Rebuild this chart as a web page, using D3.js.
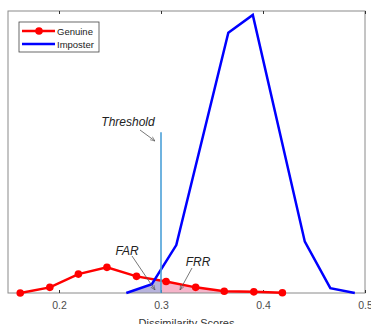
<!DOCTYPE html>
<html>
<head>
<meta charset="utf-8">
<script src="https://cdn.jsdelivr.net/npm/d3@7"></script>
<style>
  body { margin: 0; background: #fff; }
  svg { display: block; font-family: "Liberation Sans", Arial, sans-serif; }
</style>
</head>
<body>
<svg id="chart" width="371" height="324"></svg>
<script>
// genuine / imposter score distributions
var genuineX = [0.162, 0.191, 0.219, 0.247, 0.276, 0.305, 0.334, 0.362, 0.391, 0.419];
var genuineY = [0.000, 0.020, 0.067, 0.091, 0.059, 0.041, 0.020, 0.006, 0.004, 0.001];
var imposterX = [0.266, 0.291, 0.315, 0.366, 0.390, 0.441, 0.466, 0.490];
var imposterY = [0.000, 0.031, 0.170, 0.923, 0.986, 0.182, 0.017, 0.000];
var xTicks = [0.2, 0.3, 0.4, 0.5];
var threshold = 0.3, thresholdTop = 0.57;

var m = {l: 8, r: 6, t: 11, b: 31}, W = 371, H = 324;
var svg = d3.select("#chart");
var x = d3.scaleLinear().domain([0.15, 0.5]).range([m.l, W - m.r]);
var y = d3.scaleLinear().domain([0, 1]).range([H - m.b, m.t]);

var genuine = genuineX.map(function(v, i) { return [v, genuineY[i]]; });
var imposter = imposterX.map(function(v, i) { return [v, imposterY[i]]; });

// linear lookup along a series, 0 outside
function at(s, v) {
  if (v < s[0][0] || v > s[s.length - 1][0]) return 0;
  for (var i = 1; i < s.length; i++) {
    if (v <= s[i][0]) {
      var a = s[i - 1], b = s[i];
      return a[1] + (b[1] - a[1]) * (v - a[0]) / (b[0] - a[0]);
    }
  }
  return 0;
}
// overlap area = under the lower of the two curves
function overlap(x0, x1) {
  var xs = d3.range(x0, x1, 0.0005).concat([x1]);
  return xs.map(function(v) { return [v, Math.min(at(genuine, v), at(imposter, v))]; });
}
var area = d3.area().x(function(d) { return x(d[0]); }).y0(y(0)).y1(function(d) { return y(d[1]); });

svg.append("path").datum(overlap(imposterX[0], threshold)).attr("d", area).attr("fill", "#b7b3dc");
svg.append("path").datum(overlap(threshold, genuineX[genuineX.length - 1])).attr("d", area).attr("fill", "#f6b4c9");

// axes box
var gray = "#8a8a8a";
svg.append("rect").attr("x", x(0.15)).attr("y", m.t).attr("width", x(0.5) - x(0.15)).attr("height", y(0) - m.t)
  .attr("fill", "none").attr("stroke", gray).attr("stroke-width", 1);

var xAxis = svg.append("g").attr("transform", "translate(0," + y(0) + ")")
  .call(d3.axisBottom(x).tickValues(xTicks).tickSize(-3).tickPadding(9).tickFormat(d3.format(".1f")));
xAxis.select(".domain").remove();
xAxis.selectAll("line").attr("stroke", "#333");
xAxis.selectAll("text").attr("fill", "#4d4d4d").style("font-size", "10.5px");

var topAxis = svg.append("g").attr("transform", "translate(0," + m.t + ")")
  .call(d3.axisTop(x).tickValues(xTicks).tickSize(-3).tickFormat(""));
topAxis.select(".domain").remove();
topAxis.selectAll("line").attr("stroke", "#333");

svg.append("text").attr("x", (x(0.15) + x(0.5)) / 2).attr("y", 327).attr("text-anchor", "middle")
  .attr("fill", "#333").style("font-size", "11px").text("Dissimilarity Scores");

// curves
var line = d3.line().x(function(d) { return x(d[0]); }).y(function(d) { return y(d[1]); });
svg.append("path").datum(genuine).attr("d", line).attr("fill", "none").attr("stroke", "#ff0000").attr("stroke-width", 2.5);
svg.selectAll(".gdot").data(genuine).enter().append("circle").attr("class", "gdot")
  .attr("cx", function(d) { return x(d[0]); }).attr("cy", function(d) { return y(d[1]); })
  .attr("r", 3.8).attr("fill", "#ff0000");
svg.append("path").datum(imposter).attr("d", line).attr("fill", "none").attr("stroke", "#0000ff").attr("stroke-width", 2.5);

// threshold
svg.append("line").attr("x1", x(threshold)).attr("x2", x(threshold)).attr("y1", y(thresholdTop)).attr("y2", y(0))
  .attr("stroke", "#4ba0d8").attr("stroke-width", 1.6);

// annotations with arrows
svg.append("defs").append("marker").attr("id", "ah").attr("viewBox", "0 0 10 10").attr("refX", 10).attr("refY", 5)
  .attr("markerWidth", 6).attr("markerHeight", 6).attr("orient", "auto")
  .append("path").attr("d", "M0,1 L10,5 L0,9").attr("fill", "none").attr("stroke", "#555").attr("stroke-width", 1.2);

var notes = [
  {t: "Threshold", tx: 128, ty: 126, a: [140, 130, 155, 141]},
  {t: "FAR", tx: 127, ty: 255, a: [132, 256, 155, 290]},
  {t: "FRR", tx: 198, ty: 266, a: [192, 268, 180, 290]}
];
notes.forEach(function(n) {
  svg.append("text").attr("x", n.tx).attr("y", n.ty).attr("text-anchor", "middle")
    .style("font-style", "italic").style("font-size", "12px").attr("fill", "#222").text(n.t);
  svg.append("line").attr("x1", n.a[0]).attr("y1", n.a[1]).attr("x2", n.a[2]).attr("y2", n.a[3])
    .attr("stroke", "#555").attr("stroke-width", 0.8).attr("marker-end", "url(#ah)");
});

// legend
var lg = svg.append("g").attr("transform", "translate(19,22)");
lg.append("rect").attr("width", 80).attr("height", 30).attr("fill", "#fff").attr("stroke", "#444").attr("stroke-width", 0.8);
[["Genuine", "#ff0000", true], ["Imposter", "#0000ff", false]].forEach(function(d, i) {
  var yy = 9 + i * 13;
  lg.append("line").attr("x1", 3).attr("x2", 36).attr("y1", yy).attr("y2", yy).attr("stroke", d[1]).attr("stroke-width", 2.5);
  if (d[2]) lg.append("circle").attr("cx", 20).attr("cy", yy).attr("r", 3.8).attr("fill", d[1]);
  lg.append("text").attr("x", 38).attr("y", yy + 3.5).style("font-size", "9.5px").attr("fill", "#222").text(d[0]);
});
</script>
</body>
</html>
